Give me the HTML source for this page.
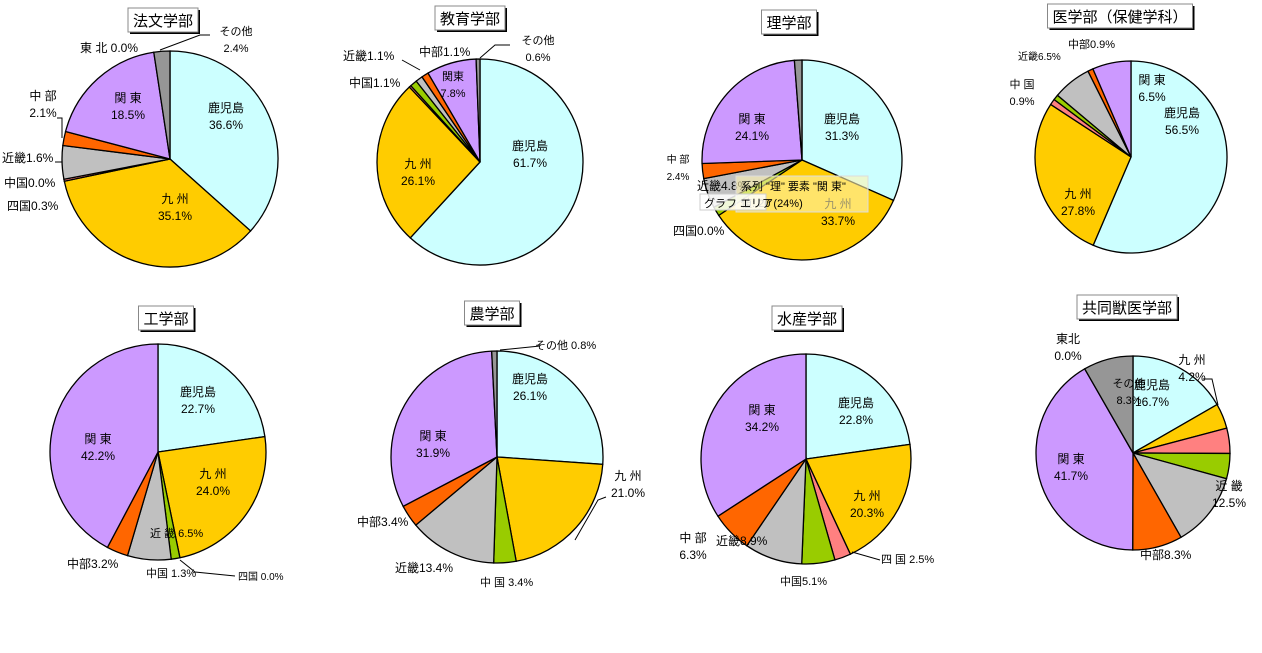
<!DOCTYPE html>
<html><head><meta charset="utf-8">
<style>
body{margin:0;background:#fff;width:1262px;height:648px;overflow:hidden;font-family:"Liberation Sans","Noto Sans CJK JP",sans-serif;}
svg text{font-family:"Liberation Sans","Noto Sans CJK JP",sans-serif;}
</style></head>
<body>
<svg id="chart" width="1262" height="648" viewBox="0 0 1262 648" xmlns="http://www.w3.org/2000/svg"></svg>
<script>
// Region order (clockwise from 12 o'clock)
const regions = ["鹿児島","九州","四国","中国","近畿","中部","関東","東北","その他"];
const regionColors = ["#ccffff","#ffcc00","#ff8080","#99cc00","#c0c0c0","#ff6600","#cc99ff","#777777","#969696"];
// Series values per faculty (percent)
const houbunValues = [36.6,35.1,0.3,0.0,5.0,2.1,18.5,0.0,2.4];
const kyouikuValues = [61.7,26.1,0.3,1.1,1.1,1.1,7.8,0.0,0.6];
const rigakuValues = [31.3,33.7,0.0,1.5,4.8,2.4,24.1,0.0,1.2];
const igakuValues = [56.5,27.8,1.0,0.9,6.5,0.9,6.5,0.0,0.0];
const kougakuValues = [22.7,24.0,0.0,1.3,6.5,3.2,42.2,0.0,0.0];
const nougakuValues = [26.1,21.0,0.0,3.4,13.4,3.4,31.9,0.0,0.8];
const suisanValues = [22.8,20.3,2.5,5.1,8.9,6.3,34.2,0.0,0.0];
const juuiValues = [16.7,4.2,4.2,4.2,12.5,8.3,41.7,0.0,8.3];
const facultyTitles = ["法文学部","教育学部","理学部","医学部（保健学科）","工学部","農学部","水産学部","共同獣医学部"];

const svg = document.getElementById('chart');
const NS = "http://www.w3.org/2000/svg";
function mk(tag, attrs){const e=document.createElementNS(NS,tag);for(const k in attrs)e.setAttribute(k,attrs[k]);return e;}

function angleScale(v,total){return v/total*2*Math.PI;}
function pt(cx,cy,r,a){return [cx+r*Math.sin(a), cy-r*Math.cos(a)];}

function drawPie(values, cx, cy, r, key){
  const g = mk('g',{});
  
  
  svg.appendChild(g);
  const total = values.reduce((a,b)=>a+b,0);
  let a0 = 0;
  values.forEach((v,i)=>{
    if(v<=0) return;
    const a1 = a0 + angleScale(v,total);
    const p0 = pt(cx,cy,r,a0), p1 = pt(cx,cy,r,a1);
    const large = (a1-a0)>Math.PI?1:0;
    const d = `M${cx},${cy} L${p0[0].toFixed(2)},${p0[1].toFixed(2)} A${r},${r} 0 ${large} 1 ${p1[0].toFixed(2)},${p1[1].toFixed(2)} Z`;
    const p = mk('path',{d:d,fill:regionColors[i],stroke:'#000','stroke-width':'1.3'});
    
    
    g.appendChild(p);
    a0 = a1;
  });
}

function title(txt, x, y, key){
  const w = txt.length*15 + 10;
  const g = mk('g',{});
  
  
  g.appendChild(mk('rect',{x:x-w/2+2,y:y+2,width:w,height:24,fill:'#000'}));
  g.appendChild(mk('rect',{x:x-w/2,y:y,width:w,height:24,fill:'#fff',stroke:'#888'}));
  const t = mk('text',{x:x,y:y+18,'text-anchor':'middle','font-size':'15'});
  t.textContent = txt;
  g.appendChild(t);
  svg.appendChild(g);
}

function label(lines, x, y, anchor, size){
  lines.forEach((s,k)=>{
    const t = mk('text',{x:x,y:y+k*17,'text-anchor':anchor||'middle','font-size':size||12});
    
    
    t.textContent = s;
    svg.appendChild(t);
  });
}
function line(pts){
  const p = mk('polyline',{points:pts,fill:'none',stroke:'#000','stroke-width':'1'});
  
  
  svg.appendChild(p);
}

// Pies
drawPie(houbunValues,170,159,108,'houbun');
drawPie(kyouikuValues,480,162,103,'kyouiku');
drawPie(rigakuValues,802,160,100,'rigaku');
drawPie(igakuValues,1131,157,96,'igaku');
drawPie(kougakuValues,158,452,108,'kougaku');
drawPie(nougakuValues,497,457,106,'nougaku');
drawPie(suisanValues,806,459,105,'suisan');
drawPie(juuiValues,1133,453,97,'juui');

// Titles
title(facultyTitles[0],163,8,'houbun');
title(facultyTitles[1],470,6,'kyouiku');
title(facultyTitles[2],789,10,'rigaku');
title(facultyTitles[3],1120,4,'igaku');
title(facultyTitles[4],166,306,'kougaku');
title(facultyTitles[5],492,301,'nougaku');
title(facultyTitles[6],807,306,'suisan');
title(facultyTitles[7],1127,295,'juui');

// Labels 法文
label(["鹿児島","36.6%"],226,112);
label(["九 州","35.1%"],175,203);
label(["関 東","18.5%"],128,102);
label(["その他","2.4%"],236,35,'middle',11);
label(["東 北 0.0%"],80,52,'start');
label(["中 部","2.1%"],43,100);
label(["近畿1.6%"],2,162,'start');
label(["中国0.0%"],4,187,'start');
label(["四国0.3%"],7,210,'start');
line("160,50 200,35 210,35");line("57,118 62,118 62,138");line("55,162 62,162");
// 教育
label(["鹿児島","61.7%"],530,150);
label(["九 州","26.1%"],418,168);
label(["関東","7.8%"],453,80,'middle',11);
label(["その他","0.6%"],538,44,'middle',11);
label(["近畿1.1%"],343,60,'start');
label(["中部1.1%"],419,56,'start');
label(["中国1.1%"],349,87,'start');
line("480,58 495,45 510,45");line("402,60 420,70");
// 理学
label(["鹿児島","31.3%"],842,123);
label(["九 州","33.7%"],838,208);
label(["関 東","24.1%"],752,123);
label(["中 部","2.4%"],678,163,'middle',10);
label(["四国0.0%"],673,235,'start');
label(["近畿4.8%"],697,190,'start');
const tip = mk('rect',{x:736,y:176,width:132,height:36,fill:'#fff3b0','fill-opacity':'0.6',stroke:'#ddd'});
svg.appendChild(tip);
label(["系列 \"理\" 要素 \"関 東\"","値: 20 (24%)"],741,190,'start',11);
const tip2 = mk('rect',{x:700,y:194,width:66,height:16,fill:'#fff','fill-opacity':'0.85',stroke:'#ccc'});
svg.appendChild(tip2);
label(["グラフ エリア"],704,207,'start',11);
// 医学
label(["鹿児島","56.5%"],1182,117);
label(["九 州","27.8%"],1078,198);
label(["関 東","6.5%"],1152,84);
label(["中部0.9%"],1068,48,'start',11);
label(["近畿6.5%"],1018,60,'start',10);
label(["中 国","0.9%"],1022,88,'middle',11);
// 工学
label(["鹿児島","22.7%"],198,396);
label(["九 州","24.0%"],213,478);
label(["関 東","42.2%"],98,443);
label(["近 畿 6.5%"],150,537,'start',11);
label(["中部3.2%"],67,568,'start');
label(["中国 1.3%"],146,577,'start',11);
label(["四国 0.0%"],238,580,'start',10);
line("180,560 195,572 235,576");
// 農学
label(["鹿児島","26.1%"],530,383);
label(["九 州","21.0%"],628,480);
label(["関 東","31.9%"],433,440);
label(["その他 0.8%"],535,349,'start',11);
label(["中部3.4%"],357,526,'start');
label(["近畿13.4%"],395,572,'start');
label(["中 国 3.4%"],480,586,'start',11);
line("500,350 540,346");line("606,497 598,500 575,540");
// 水産
label(["鹿児島","22.8%"],856,407);
label(["九 州","20.3%"],867,500);
label(["関 東","34.2%"],762,414);
label(["中 部","6.3%"],693,542);
label(["近畿8.9%"],716,545,'start');
label(["四 国 2.5%"],881,563,'start',11);
label(["中国5.1%"],780,585,'start',11);
line("852,552 880,560");
// 共同獣医
label(["鹿児島","16.7%"],1152,389);
label(["九 州","4.2%"],1192,364);
label(["関 東","41.7%"],1071,463);
label(["その他","8.3%"],1129,387,'middle',11);
label(["東北","0.0%"],1068,343);
label(["近 畿","12.5%"],1229,490);
label(["中部8.3%"],1140,559,'start');
line("1203,379 1212,379 1218,405");
</script>
</body></html>
